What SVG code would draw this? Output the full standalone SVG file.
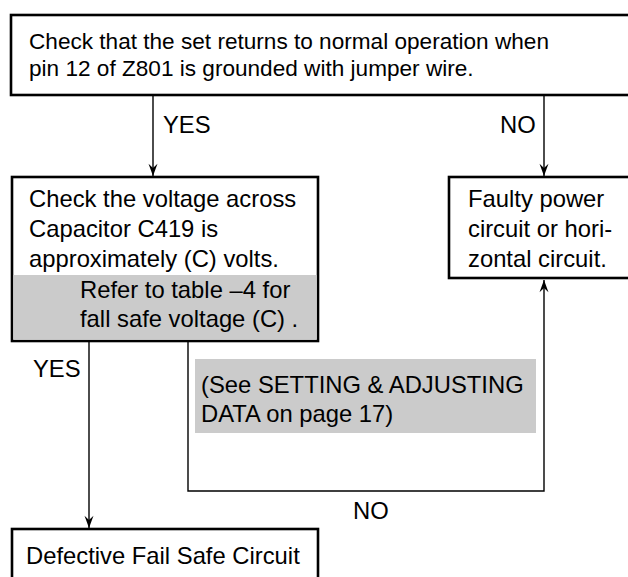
<svg xmlns="http://www.w3.org/2000/svg" width="628" height="577" viewBox="0 0 628 577">
<style>
.box{fill:#fff;stroke:#000;stroke-width:2.6}
.gray{fill:#cbcbcb}
.t{font-family:"Liberation Sans",Arial,sans-serif;font-size:23.8px;fill:#000}
.tt{font-size:22.6px}
.c{fill:none;stroke:#000;stroke-width:1.4}
</style>
<defs>
<marker id="ah" markerUnits="userSpaceOnUse" markerWidth="14" markerHeight="12" viewBox="-14 -5.5 15 11" refX="0" refY="0" orient="auto">
<path d="M0,0 L-13,-4.8 L-8.5,0 L-13,4.8 Z" fill="#000"/>
</marker>
</defs>
<g id="connectors">
<line class="c" x1="153" y1="96" x2="153" y2="176" marker-end="url(#ah)"/>
<line class="c" x1="544" y1="96" x2="544" y2="176" marker-end="url(#ah)"/>
<line class="c" x1="89" y1="342" x2="89" y2="528" marker-end="url(#ah)"/>
<polyline class="c" points="188,342 188,491 544,491 544,280" marker-end="url(#ah)"/>
<text class="t" x="163" y="133">YES</text>
<text class="t" x="500" y="133">NO</text>
<text class="t" x="33" y="377">YES</text>
<text class="t" x="353" y="519">NO</text>
</g>
<g id="top">
<rect class="box" x="11" y="15" width="630" height="80"/>
<text class="t tt" x="29" y="49">Check that the set returns to normal operation when</text>
<text class="t tt" x="29" y="76">pin 12 of Z801 is grounded with jumper wire.</text>
</g>
<g id="check">
<rect class="box" x="12" y="177" width="306" height="164"/>
<rect class="gray" x="13.3" y="275" width="303.4" height="64.7"/>
<text class="t" x="29" y="207">Check the voltage across</text>
<text class="t" x="29" y="237">Capacitor C419 is</text>
<text class="t" x="29" y="267">approximately (C) volts.</text>
<text class="t" x="80" y="298">Refer to table –4 for</text>
<text class="t" x="80" y="327">fall safe voltage (C) .</text>
</g>
<g id="faulty">
<rect class="box" x="449" y="177" width="200" height="101"/>
<text class="t" x="468" y="207">Faulty power</text>
<text class="t" x="468" y="237">circuit or hori-</text>
<text class="t" x="468" y="267">zontal circuit.</text>
</g>
<g id="note">
<rect class="gray" x="195" y="359" width="341" height="74"/>
<text class="t" x="201" y="393">(See SETTING &amp; ADJUSTING</text>
<text class="t" x="201" y="422">DATA on page 17)</text>
</g>
<g id="defective">
<rect class="box" x="12" y="529" width="306" height="60"/>
<text class="t" x="26" y="564">Defective Fail Safe Circuit</text>
</g>
</svg>
